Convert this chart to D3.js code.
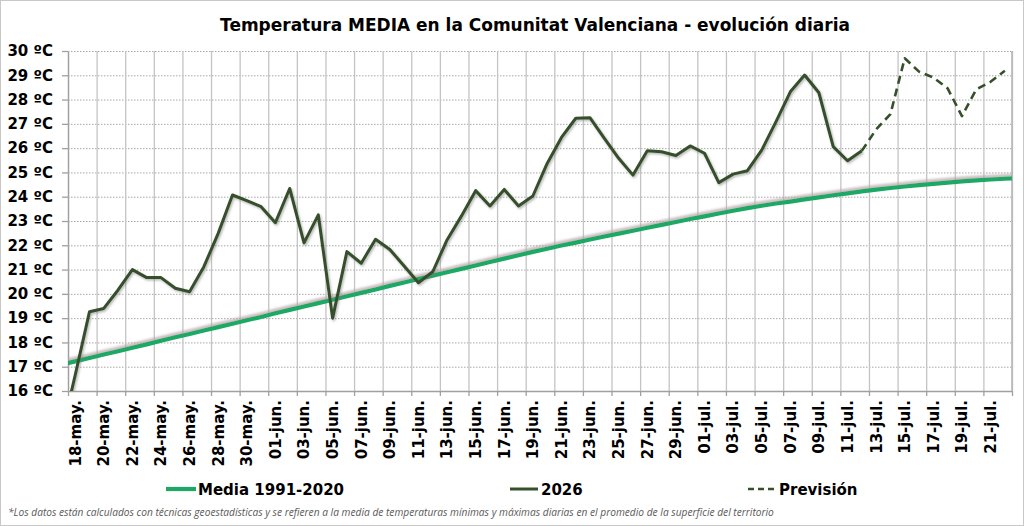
<!DOCTYPE html>
<html><head><meta charset="utf-8">
<script src="https://cdn.jsdelivr.net/npm/d3@7/dist/d3.min.js"></script>
<style>
html,body{margin:0;padding:0;background:#fff;}
svg{display:block;}
</style></head>
<body>
<svg id="chart" width="1024" height="526"></svg>
<script>
// ---- DATA ----
// daily series start on 17-may (one day before the visible axis start, clipped)
const seriesStart = Date.UTC(2026, 4, 17);
// Media 1991-2020 : 17-may .. 23-jul
const media = [17.08, 17.22, 17.36, 17.50, 17.64, 17.78, 17.92, 18.07, 18.21, 18.35,
  18.49, 18.63, 18.77, 18.91, 19.05, 19.20, 19.34, 19.48, 19.62, 19.76,
  19.90, 20.04, 20.18, 20.33, 20.47, 20.61, 20.75, 20.89, 21.03, 21.17,
  21.31, 21.45, 21.59, 21.73, 21.86, 21.99, 22.11, 22.24, 22.36, 22.48,
  22.60, 22.72, 22.84, 22.96, 23.08, 23.19, 23.31, 23.42, 23.53, 23.63,
  23.72, 23.80, 23.89, 23.97, 24.06, 24.14, 24.22, 24.29, 24.36, 24.42,
  24.48, 24.53, 24.58, 24.63, 24.67, 24.71, 24.74, 24.77];
// 2026 observed : 17-may .. 12-jul
const obs2026 = [14.1, 16.65, 19.26, 19.40, 20.16, 21.0, 20.67, 20.67, 20.23, 20.09,
  21.12, 22.49, 24.07, 23.84, 23.59, 22.93, 24.34, 22.1, 23.25, 19.0,
  21.74, 21.26, 22.25, 21.83, 21.15, 20.46, 20.91, 22.22, 23.2, 24.25,
  23.62, 24.3, 23.62, 24.03, 25.37, 26.44, 27.23, 27.25, 26.4, 25.58,
  24.89, 25.89, 25.85, 25.7, 26.09, 25.79, 24.58, 24.93, 25.07, 25.92,
  27.09, 28.32, 29.01, 28.28, 26.06, 25.48, 25.89];
// Previsión : 12-jul .. 22-jul
const forecastStart = Date.UTC(2026, 6, 12);
const forecast = [25.89, 26.77, 27.40, 29.70, 29.15, 28.91, 28.46, 27.32, 28.42, 28.73, 29.19];
// x axis tick labels (every 2 days from 18-may)
const tickLabels = ["18-may.","20-may.","22-may.","24-may.","26-may.","28-may.","30-may.",
  "01-jun.","03-jun.","05-jun.","07-jun.","09-jun.","11-jun.","13-jun.","15-jun.","17-jun.",
  "19-jun.","21-jun.","23-jun.","25-jun.","27-jun.","29-jun.","01-jul.","03-jul.","05-jul.",
  "07-jul.","09-jul.","11-jul.","13-jul.","15-jul.","17-jul.","19-jul.","21-jul."];
const yTicks = [16,17,18,19,20,21,22,23,24,25,26,27,28,29,30];
const legendItems = ["Media 1991-2020", "2026", "Previsión"];
const titleText = "Temperatura MEDIA en la Comunitat Valenciana - evolución diaria";
const noteText = "*Los datos están calculados con técnicas geoestadísticas y se refieren a la media de temperaturas mínimas y máximas diarias en el promedio de la superficie del territorio";

// ---- LAYOUT ----
const W = 1024, H = 526;
const L = 68, R = 1012, T = 51, B = 391;
const axisStart = Date.UTC(2026, 4, 18), axisEnd = Date.UTC(2026, 6, 23);
const DAY = 86400000;
const cMedia = "#1ea865", cObs = "#36502a";
const font = "'DejaVu Sans', Verdana, sans-serif";

const svg = d3.select("#chart");
svg.append("rect").attr("x",0.5).attr("y",0.5).attr("width",W-1).attr("height",H-1)
  .attr("fill","#fff").attr("stroke","#c8c8c8");

const defs = svg.append("defs");
defs.append("clipPath").attr("id","plotclip").append("rect")
  .attr("x",L).attr("y",T-10).attr("width",R-L).attr("height",B-T+10);
const f1 = defs.append("filter").attr("id","shObs").attr("x","-5%").attr("y","-20%").attr("width","110%").attr("height","140%");
f1.append("feDropShadow").attr("dx",1.2).attr("dy",1.5).attr("stdDeviation",1.2)
  .attr("flood-color","#777").attr("flood-opacity",0.55);
const f2 = defs.append("filter").attr("id","shMed").attr("x","-5%").attr("y","-30%").attr("width","110%").attr("height","160%");
f2.append("feDropShadow").attr("dx",0).attr("dy",-2.6).attr("stdDeviation",1.2)
  .attr("flood-color","#b5a3a8").attr("flood-opacity",0.75);

const x = d3.scaleUtc().domain([axisStart, axisEnd]).range([L, R]);
const y = d3.scaleLinear().domain([16, 30]).range([B, T]);
const mid = (start, i) => new Date(start + i * DAY + DAY / 2);

// gridline dates (every 2 days from 18-may, at day boundaries)
const gridDates = d3.range(0, 34).map(k => new Date(axisStart + 2 * k * DAY));
const labelDates = tickLabels.map((t, k) => new Date(axisStart + 2 * k * DAY + DAY / 2));

// horizontal dotted gridlines
svg.append("g").attr("transform",`translate(${L},0)`)
  .call(d3.axisLeft(y).tickValues(yTicks).tickSize(-(R-L)).tickFormat(""))
  .call(g => g.select(".domain").remove())
  .call(g => g.selectAll("line").attr("stroke","#a8a8a8").attr("stroke-width",1).attr("stroke-dasharray","1.5,1.5"));

// vertical solid gridlines
svg.append("g").attr("transform",`translate(0,${B})`)
  .call(d3.axisBottom(x).tickValues(gridDates).tickSize(-(B-T)).tickFormat(""))
  .call(g => g.select(".domain").remove())
  .call(g => g.selectAll("line").attr("stroke","#c4c4c4").attr("stroke-width",1.3));

// x axis line + small ticks
svg.append("g").attr("transform",`translate(0,${B})`)
  .call(d3.axisBottom(x).tickValues(gridDates).tickSize(5).tickSizeOuter(0).tickFormat(""))
  .call(g => g.select(".domain").attr("stroke","#a0a0a0").attr("stroke-width",1.3))
  .call(g => g.selectAll("line").attr("stroke","#a0a0a0").attr("stroke-width",1.3));

// y axis line + ticks + labels
svg.append("g").attr("transform",`translate(${L},0)`)
  .call(d3.axisLeft(y).tickValues(yTicks).tickSize(6).tickSizeOuter(0).tickPadding(9).tickFormat(d => d + " ºC"))
  .call(g => g.select(".domain").attr("stroke","#a0a0a0").attr("stroke-width",1.3))
  .call(g => g.selectAll("line").attr("stroke","#a0a0a0").attr("stroke-width",1.3))
  .call(g => g.selectAll("text").attr("font-family",font).attr("font-weight","bold")
    .attr("font-size","15px").attr("fill","#000"));

// right border of plot
svg.append("line").attr("x1",R).attr("x2",R).attr("y1",T).attr("y2",B)
  .attr("stroke","#b8b8b8").attr("stroke-width",1.6);

// x labels (rotated)
svg.append("g").selectAll("text").data(labelDates).join("text")
  .attr("transform", d => `translate(${x(d)},400) rotate(-90)`)
  .attr("text-anchor","end").attr("dy","0.36em")
  .attr("font-family",font).attr("font-weight","bold").attr("font-size","15px").attr("fill","#000")
  .text((d, i) => tickLabels[i]);

// lines
const plot = svg.append("g").attr("clip-path","url(#plotclip)");
const line = d3.line().x(d => x(d[0])).y(d => y(d[1]));
const mediaPts = media.map((v, i) => [mid(seriesStart, i), v]);
const obsPts = obs2026.map((v, i) => [mid(seriesStart, i), v]);
const fcPts = forecast.map((v, i) => [mid(forecastStart, i), v]);

plot.append("path").datum(mediaPts).attr("d", line).attr("fill","none")
  .attr("stroke",cMedia).attr("stroke-width",4.2).attr("stroke-linejoin","round")
  .attr("filter","url(#shMed)");
plot.append("path").datum(obsPts).attr("d", line).attr("fill","none")
  .attr("stroke",cObs).attr("stroke-width",3).attr("stroke-linejoin","round")
  .attr("filter","url(#shObs)");
plot.append("path").datum(fcPts).attr("d", line).attr("fill","none")
  .attr("stroke",cObs).attr("stroke-width",2.6).attr("stroke-dasharray","8,5")
  .attr("stroke-linejoin","round");

// title
const title = svg.append("text").attr("x",535).attr("y",31).attr("text-anchor","middle")
  .attr("font-family",font).attr("font-weight","bold").attr("font-size","17px").attr("fill","#000")
  .text(titleText);
{
  const len = title.node().getComputedTextLength();
  title.attr("font-size", (17 * 630 / len).toFixed(2) + "px");
}

// legend
const legend = svg.append("g");
const legendPos = [{x1:166, x2:196, tx:198, dash:null, w:4.2, c:cMedia},
                   {x1:510, x2:538, tx:541, dash:null, w:3, c:cObs},
                   {x1:748, x2:776, tx:779, dash:"6,4", w:2.6, c:cObs}];
legendItems.forEach((name, i) => {
  const p = legendPos[i];
  legend.append("line").attr("x1",p.x1).attr("x2",p.x2).attr("y1",489).attr("y2",489)
    .attr("stroke",p.c).attr("stroke-width",p.w).attr("stroke-dasharray",p.dash);
  legend.append("text").attr("x",p.tx).attr("y",494.5)
    .attr("font-family",font).attr("font-weight","bold").attr("font-size","15px").attr("fill","#000")
    .text(name);
});

// footnote
const note = svg.append("text").attr("x",8).attr("y",516)
  .attr("font-family","'Open Sans', 'Liberation Sans', sans-serif").attr("font-style","italic")
  .attr("font-size","10px").attr("fill","#595959").text(noteText);
{
  const len = note.node().getComputedTextLength();
  note.attr("font-size", (10 * 767 / len).toFixed(2) + "px");
}
</script>
</body></html>
